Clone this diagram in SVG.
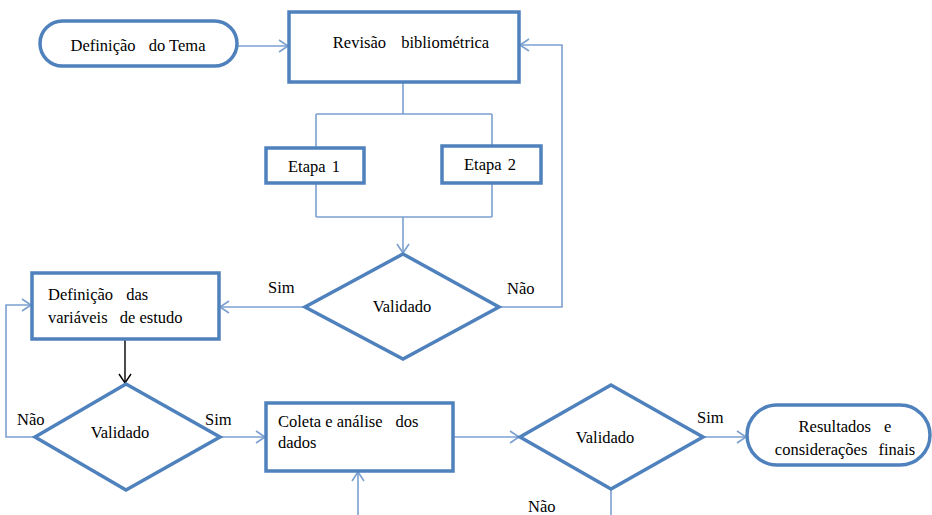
<svg xmlns="http://www.w3.org/2000/svg" width="932" height="515" viewBox="0 0 932 515">
<style>
.n{fill:#fff;stroke:#4F81BD;stroke-width:3.5}
.c{fill:none;stroke:#7BA0D0;stroke-width:1.6}
.k{fill:none;stroke:#000;stroke-width:1.4}
.m{text-anchor:middle}
</style>
<defs>
<marker id="a" markerUnits="userSpaceOnUse" markerWidth="12" markerHeight="14" refX="10" refY="7" orient="auto">
<path d="M1,1 L10,7 L1,13" fill="none" stroke="#7BA0D0" stroke-width="1.6"/>
</marker>
<marker id="ak" markerUnits="userSpaceOnUse" markerWidth="12" markerHeight="14" refX="10" refY="7" orient="auto">
<path d="M1,1 L10,7 L1,13" fill="none" stroke="#000" stroke-width="1.4"/>
</marker>
</defs>
<rect width="932" height="515" fill="#fff"/>
<g font-family="Liberation Serif, DejaVu Serif, Times New Roman, serif" font-size="16.5" fill="#000">
<g id="connectors">
<path class="c" d="M237,46 H288" marker-end="url(#a)"/>
<path class="c" d="M403,82 V114 M316,114 H492 M316,114 V148 M492,114 V146"/>
<path class="c" d="M316,183 V217 M492,183 V217 M316,217 H492"/>
<path class="c" d="M403,217 V253" marker-end="url(#a)"/>
<path class="c" d="M499,307 H562 V45 H520" marker-end="url(#a)"/>
<path class="c" d="M305,307 H220" marker-end="url(#a)"/>
<path class="k" d="M125,339 V383" marker-end="url(#ak)"/>
<path class="c" d="M35,437 H6 V305 H31" marker-end="url(#a)"/>
<path class="c" d="M220,437 H265" marker-end="url(#a)"/>
<path class="c" d="M453,437 H519" marker-end="url(#a)"/>
<path class="c" d="M358,515 V472" marker-end="url(#a)"/>
<path class="c" d="M703,437 H746" marker-end="url(#a)"/>
<path class="c" d="M611,489 V515"/>
<text x="268" y="293">Sim</text>
<text x="507" y="294">Não</text>
<text x="17" y="425">Não</text>
<text x="205" y="425">Sim</text>
<text x="697" y="423">Sim</text>
<text x="528" y="512">Não</text>
</g>
<g id="inicio">
<rect class="n" x="40" y="21" width="197" height="45" rx="22.5"/>
<text class="m" x="138" y="51">Definição <tspan dx="9">do Tema</tspan></text>
</g>
<g id="revisao">
<rect class="n" x="289" y="12" width="230" height="70"/>
<text class="m" x="411" y="48" word-spacing="11">Revisão bibliométrica</text>
</g>
<g id="etapa1">
<rect class="n" x="266" y="148" width="98" height="35"/>
<text class="m" x="314" y="172" word-spacing="2">Etapa 1</text>
</g>
<g id="etapa2">
<rect class="n" x="442" y="146" width="99" height="37"/>
<text class="m" x="490" y="170" word-spacing="2">Etapa 2</text>
</g>
<g id="validado1">
<polygon class="n" points="403,254 499,307 403,359 305,307"/>
<text class="m" x="402" y="312">Validado</text>
</g>
<g id="variaveis">
<rect class="n" x="32" y="273" width="187" height="66"/>
<text x="48" y="300" word-spacing="9">Definição das</text>
<text x="48" y="323">variáveis <tspan dx="8">de estudo</tspan></text>
</g>
<g id="validado2">
<polygon class="n" points="126,384 220,437 126,490 35,437"/>
<text class="m" x="120" y="438">Validado</text>
</g>
<g id="coleta">
<rect class="n" x="266" y="403" width="187" height="68"/>
<text x="278" y="427">Coleta e análise <tspan dx="9">dos</tspan></text>
<text x="278" y="448">dados</text>
</g>
<g id="validado3">
<polygon class="n" points="611,385 703,437 611,489 520,437"/>
<text class="m" x="605" y="443">Validado</text>
</g>
<g id="resultados">
<rect class="n" x="747" y="405" width="183" height="60" rx="30"/>
<text class="m" x="845" y="432" word-spacing="9">Resultados e</text>
<text class="m" x="845" y="455" word-spacing="7">considerações finais</text>
</g>
</g>
</svg>
